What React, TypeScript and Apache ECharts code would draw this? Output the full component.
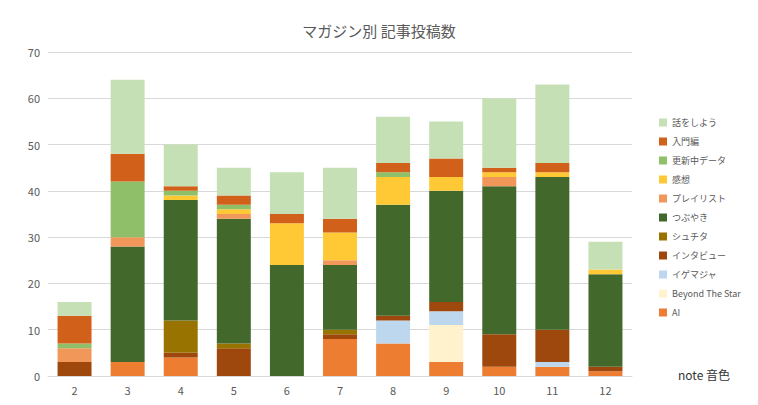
import React, { useEffect, useRef } from "react";
import * as echarts from "echarts";

const categories = ["2", "3", "4", "5", "6", "7", "8", "9", "10", "11", "12"];
const seriesNames = ["AI", "Beyond The Star", "イゲマジャ", "インタビュー", "シュチタ", "つぶやき", "プレイリスト", "感想", "更新中データ", "入門編", "話をしよう"];
const colors = ["#ed7d31", "#fff2cc", "#bdd7ee", "#9e480e", "#997300", "#43682b", "#f1975a", "#ffc935", "#8fc069", "#d0601a", "#c5e0b4"];
const ai = [0, 3, 4, 0, 0, 8, 7, 3, 2, 2, 1];
const beyond = [0, 0, 0, 0, 0, 0, 0, 8, 0, 0, 0];
const igemaja = [0, 0, 0, 0, 0, 0, 5, 3, 0, 1, 0];
const interview = [3, 0, 1, 6, 0, 1, 1, 2, 7, 7, 1];
const shuchita = [0, 0, 7, 1, 0, 1, 0, 0, 0, 0, 0];
const tsubuyaki = [0, 25, 26, 27, 24, 14, 24, 24, 32, 33, 20];
const playlist = [3, 2, 0, 1, 0, 1, 0, 0, 2, 0, 0];
const kanso = [0, 0, 1, 1, 9, 6, 6, 3, 1, 1, 1];
const koshin = [1, 12, 1, 1, 0, 0, 1, 0, 0, 0, 0];
const nyumon = [6, 6, 1, 2, 2, 3, 2, 4, 1, 2, 0];
const hanashi = [3, 16, 9, 6, 9, 11, 10, 8, 15, 17, 6];
const allData = [ai, beyond, igemaja, interview, shuchita, tsubuyaki, playlist, kanso, koshin, nyumon, hanashi];

export default function App() {
  const ref = useRef<HTMLDivElement>(null);
  useEffect(() => {
    const chart = echarts.init(ref.current!, null, { renderer: "svg" });
    const font = "'Noto Sans CJK JP', 'Noto Sans', sans-serif";
    chart.setOption({
      animation: false,
      textStyle: { fontFamily: font },
      title: { text: "マガジン別 記事投稿数", left: "center", top: 10, textStyle: { fontSize: 15, fontWeight: "normal", color: "#595959", fontFamily: font } },
      grid: { left: 40, right: 118, top: 44, bottom: 21 },
      legend: {
        orient: "vertical", left: 646, top: 105, itemWidth: 8, itemHeight: 8, itemGap: 10,
        icon: "rect", textStyle: { fontSize: 9, color: "#595959" },
        data: [...seriesNames].reverse(),
      },
      graphic: [{ type: "text", left: 670, top: 360, style: { text: "note 音色", fontSize: 12, fill: "#333", fontFamily: font } }],
      xAxis: {
        type: "category", data: categories,
        axisLine: { lineStyle: { color: "#d9d9d9" } }, axisTick: { show: false },
        axisLabel: { color: "#595959", fontSize: 11 },
      },
      yAxis: {
        type: "value", min: 0, max: 70, interval: 10,
        axisLabel: { color: "#595959", fontSize: 11 },
        splitLine: { lineStyle: { color: "#d9d9d9" } },
      },
      series: seriesNames.map((name, i) => ({
        name, type: "bar", stack: "a", data: allData[i], barWidth: "64%",
        itemStyle: { color: colors[i] },
      })),
    });
    return () => chart.dispose();
  }, []);
  return <div ref={ref} style={{ width: 742, height: 389 }} />;
}
